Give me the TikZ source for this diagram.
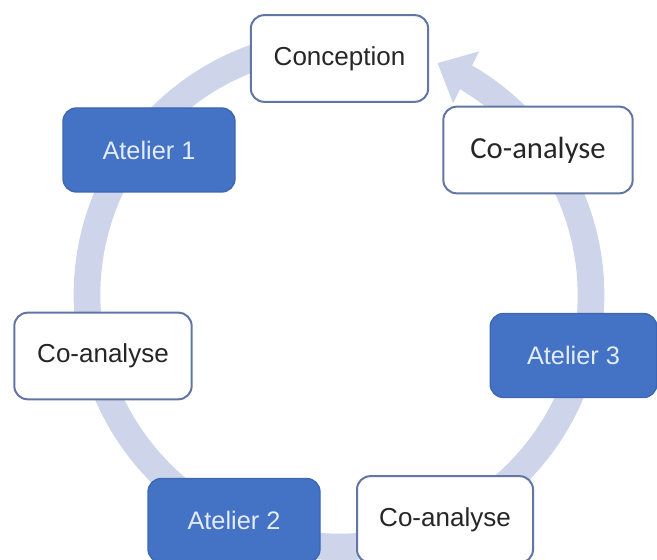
\documentclass[tikz,border=0pt]{standalone}
\usepackage{fontspec}
\setmainfont{Liberation Sans}
\newfontfamily\calibrifont{Carlito}
\usetikzlibrary{arrows.meta,bending}
\definecolor{ringgrey}{RGB}{206,213,234}
\definecolor{boxblue}{RGB}{68,114,196}
\definecolor{edgegrey}{RGB}{98,118,165}
\definecolor{paleblue}{RGB}{226,236,250}
\begin{document}
\begin{tikzpicture}[x=0.75pt, y=0.75pt,
  plain box/.style={draw=edgegrey, line width=1.5pt, fill=white, rounded corners=10pt,
    minimum width=#1, minimum height=65pt, text=black!85,
    font=\fontsize{19.5}{22}\selectfont},
  blue box/.style={draw=boxblue!90!black, line width=1pt, fill=boxblue, rounded corners=10pt,
    minimum width=#1, minimum height=63pt, text=paleblue,
    font=\fontsize{19}{22}\selectfont},
  cycle ring/.style={draw=ringgrey, line width=20pt,
    -{Triangle[width=42pt,length=24pt]}}]
\useasboundingbox (0,0) rectangle (657,560);
\coordinate (hub) at (339,265);
% circular arrow behind the boxes
\draw[cycle ring] (hub) ++(90:252) arc[start angle=90, end angle=427, radius=252];
\node[plain box=133pt] (conception) at (339.5,501.5) {Conception};
\node[blue box=129pt] (atelier1) at (149,410) {Atelier 1};
\node[plain box=133pt] (coanalyseA) at (103,204) {Co-analyse};
\node[blue box=129pt] (atelier2) at (234,39.5) {Atelier 2};
\node[plain box=132pt] (coanalyseB) at (445,40.5) {Co-analyse};
\node[blue box=125pt] (atelier3) at (573.5,204.5) {Atelier 3};
\node[plain box=142pt, font=\calibrifont\fontsize{23}{26}\selectfont] (coanalyseC) at (538,410) {Co-analyse};
\end{tikzpicture}
\end{document}
